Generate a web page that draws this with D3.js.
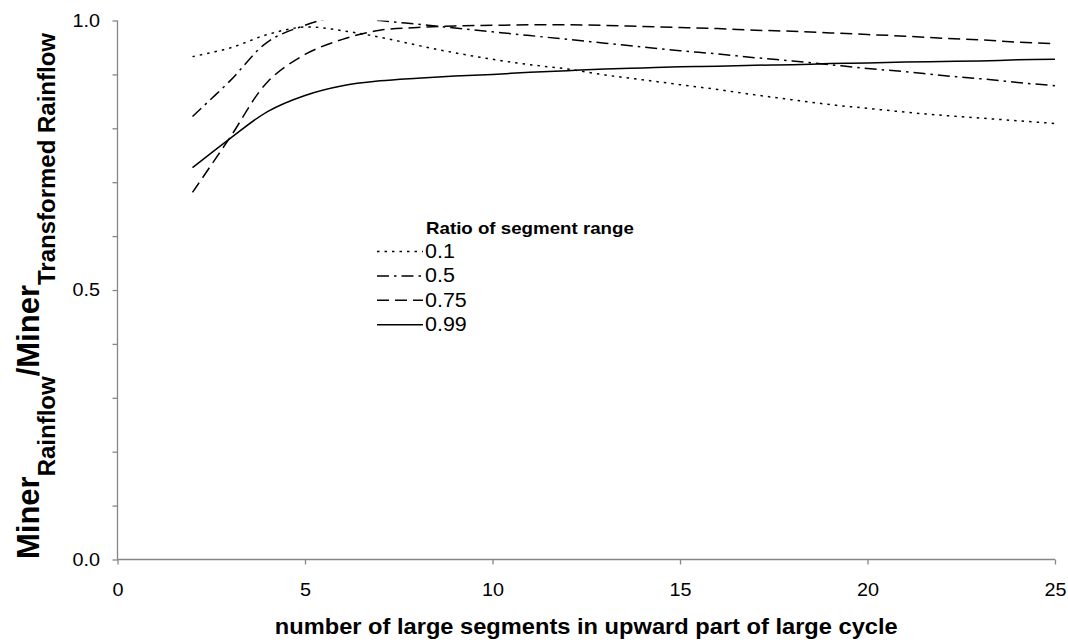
<!DOCTYPE html>
<html>
<head>
<meta charset="utf-8">
<script src="https://cdn.jsdelivr.net/npm/d3@7"></script>
<style>
  html, body { margin: 0; padding: 0; background: #fff; }
  svg { display: block; font-family: "Liberation Sans", Arial, sans-serif; }
</style>
</head>
<body>
<svg id="chart" width="1068" height="642"></svg>
<script>
// number of large segments (x)
const segments = [2,3,4,5,6,7,8,9,10,11,12,13,14,15,16,17,18,19,20,21,22,23,24,25];

// Miner ratio for each ratio of segment range
const ratio010 = [0.933,0.949,0.974,0.988,0.981,0.969,0.954,0.940,0.928,0.918,0.910,0.899,0.890,0.881,0.872,0.862,0.853,0.844,0.837,0.830,0.824,0.819,0.814,0.809];
const ratio050 = [0.822,0.888,0.960,0.991,1.008,1.000,0.993,0.986,0.979,0.972,0.965,0.958,0.951,0.944,0.938,0.931,0.925,0.918,0.911,0.905,0.898,0.892,0.885,0.879];
const ratio075 = [0.681,0.783,0.886,0.937,0.965,0.982,0.987,0.990,0.991,0.992,0.992,0.991,0.989,0.987,0.985,0.982,0.980,0.977,0.974,0.971,0.967,0.964,0.960,0.957];
const ratio099 = [0.727,0.781,0.831,0.861,0.879,0.888,0.893,0.897,0.900,0.904,0.907,0.910,0.912,0.914,0.915,0.917,0.918,0.920,0.921,0.923,0.924,0.925,0.927,0.928];

const seriesLabels = ["0.1", "0.5", "0.75", "0.99"];
const seriesValues = [ratio010, ratio050, ratio075, ratio099];
const seriesDash = ["2.5,5", "12,5,2.5,5", "12,6", null];

const xTicks = [0, 5, 10, 15, 20, 25];
const yLabelTicks = [0, 0.5, 1.0];
const yMinorTicks = d3.range(0, 11).map(i => i / 10);

const legendTitle = "Ratio of segment range";
const xTitle = "number of large segments in upward part of large cycle";

const svg = d3.select("#chart");
const plotLeft = 117.5, plotRight = 1055, plotTop = 20.5, plotBottom = 559.5;
const widthFactor = 1.1;   // horizontal text is set slightly wide

const x = d3.scaleLinear().domain([0, 25]).range([plotLeft, plotRight]);
const y = d3.scaleLinear().domain([0, 1]).range([plotBottom, plotTop]);

const axisColor = "#868686";

// stretch horizontal labels to a wider set width
function widen(sel) {
  sel.each(function () {
    const w = this.getComputedTextLength();
    if (w > 0) {
      this.setAttribute("textLength", (w * widthFactor).toFixed(2));
      this.setAttribute("lengthAdjust", "spacingAndGlyphs");
    }
  });
}

// clip area for the curves
svg.append("defs").append("clipPath").attr("id", "plotClip")
  .append("rect").attr("x", plotLeft).attr("y", plotTop)
  .attr("width", plotRight - plotLeft + 2).attr("height", plotBottom - plotTop);

// x axis
const xAxis = svg.append("g")
  .attr("transform", `translate(0,${plotBottom})`)
  .call(d3.axisBottom(x).tickValues(xTicks).tickSize(5).tickPadding(19).tickFormat(d3.format("d")));
xAxis.select(".domain").attr("stroke", axisColor).attr("stroke-width", 1.3).attr("d", `M${plotLeft},0H${plotRight}`);
xAxis.selectAll(".tick line").attr("stroke", axisColor).attr("stroke-width", 1.3);
xAxis.selectAll(".tick text").attr("font-size", 18).attr("fill", "#000")
  .attr("font-family", "Liberation Sans, Arial, sans-serif").call(widen);

// y axis: minor ticks every 0.1, labels at 0, 0.5, 1.0
const yAxis = svg.append("g")
  .attr("transform", `translate(${plotLeft},0)`)
  .call(d3.axisLeft(y).tickValues(yMinorTicks).tickSize(5).tickPadding(12.5)
    .tickFormat(d => yLabelTicks.some(t => Math.abs(t - d) < 1e-9) ? d3.format(".1f")(d) : ""));
yAxis.select(".domain").attr("stroke", axisColor).attr("stroke-width", 1.3).attr("d", `M0,${plotBottom}V${plotTop}`);
yAxis.selectAll(".tick line").attr("stroke", axisColor).attr("stroke-width", 1.3);
yAxis.selectAll(".tick text").attr("font-size", 18).attr("fill", "#000")
  .attr("font-family", "Liberation Sans, Arial, sans-serif").call(widen);

// curves
const line = d3.line()
  .x((d, i) => x(segments[i]))
  .y(d => y(d))
  .curve(d3.curveCatmullRom.alpha(0.5));

const plot = svg.append("g").attr("clip-path", "url(#plotClip)");
seriesValues.forEach((vals, k) => {
  plot.append("path")
    .attr("d", line(vals))
    .attr("fill", "none")
    .attr("stroke", "#000")
    .attr("stroke-width", 1.5)
    .attr("stroke-dasharray", seriesDash[k]);
});

// legend
const legend = svg.append("g");
legend.append("text")
  .attr("x", 426).attr("y", 233.5)
  .attr("font-size", 17).attr("font-weight", "bold")
  .text(legendTitle).call(widen);
seriesLabels.forEach((lab, k) => {
  const base = 258 + k * 24.4;
  legend.append("line")
    .attr("x1", 377).attr("x2", 423)
    .attr("y1", base - 6.5).attr("y2", base - 6.5)
    .attr("stroke", "#000").attr("stroke-width", 1.5)
    .attr("stroke-dasharray", seriesDash[k]);
  legend.append("text")
    .attr("x", 425).attr("y", base)
    .attr("font-size", 19.5)
    .text(lab).call(widen);
});

// x axis title
svg.append("text")
  .attr("x", (plotLeft + plotRight) / 2).attr("y", 634)
  .attr("text-anchor", "middle")
  .attr("font-size", 21.5).attr("font-weight", "bold")
  .text(xTitle).call(widen);

// y axis title with subscripts
const yt = svg.append("text")
  .attr("transform", `translate(38.5,296) rotate(-90)`)
  .attr("text-anchor", "middle")
  .attr("font-weight", "bold");
yt.append("tspan").attr("font-size", 31).text("Miner");
yt.append("tspan").attr("font-size", 24).attr("dy", 16).text("Rainflow");
yt.append("tspan").attr("font-size", 31).attr("dy", -16).text("/Miner");
yt.append("tspan").attr("font-size", 24).attr("dy", 16).text("Transformed Rainflow");
</script>
</body>
</html>
